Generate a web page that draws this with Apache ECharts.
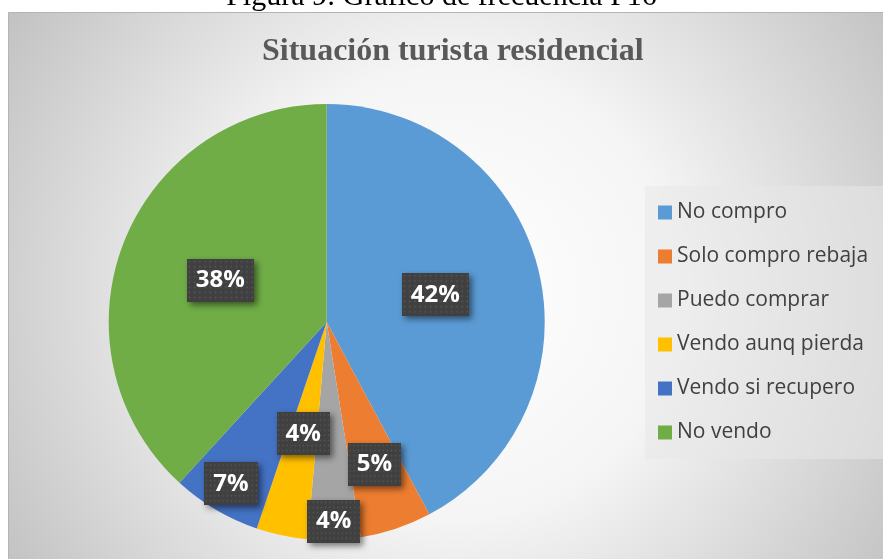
<!DOCTYPE html>
<html>
<head>
<meta charset="utf-8">
<script src="https://cdn.jsdelivr.net/npm/echarts@6/dist/echarts.min.js"></script>
<style>
    html, body { margin: 0; padding: 0; background: #ffffff; }
    #chart { width: 883px; height: 559px; }
</style>
</head>
<body>
<div id="chart"></div>
<script>
    // Pregunta 16 - situación turista residencial
    var categorias = ['No compro', 'Solo compro rebaja', 'Puedo comprar', 'Vendo aunq pierda', 'Vendo si recupero', 'No vendo'];
    var porcentajes = [42.2, 5.3, 3.9, 3.8, 6.6, 38.2];
    var colores = ['#5B9BD5', '#ED7D31', '#A5A5A5', '#FFC000', '#4472C4', '#70AD47'];
    // distancia de la etiqueta al centro (fraccion del radio), "mejor ajuste" de Excel
    var distEtiqueta = [0.5, 0.67, 0.89, 0.51, 0.84, 0.51];

    var centroX = 0.37, centroY = 0.576;

    // fondo punteado de las etiquetas
    var patron = document.createElement('canvas');
    patron.width = 64;
    patron.height = 42;
    var g = patron.getContext('2d');
    g.fillStyle = '#404040';
    g.fillRect(0, 0, 64, 42);
    g.fillStyle = '#575757';
    for (var py = 2; py < 42; py += 5) {
        for (var px = 2; px < 64; px += 5) {
            g.beginPath();
            g.arc(px + 0.5, py + 0.5, 0.9, 0, Math.PI * 2);
            g.fill();
        }
    }

    var chart = echarts.init(document.getElementById('chart'));

    var datos = categorias.map(function (c, i) {
        return { name: c, value: porcentajes[i] };
    });

    chart.setOption({
        animation: false,
        color: colores,
        graphic: [
            {
                type: 'rect',
                left: 8,
                top: 12,
                z: -10,
                silent: true,
                shape: { width: 890, height: 560 },
                style: {
                    fill: {
                        type: 'radial', x: 0.5, y: 0.5, r: 1,
                        colorStops: [
                            { offset: 0, color: '#ffffff' },
                            { offset: 0.4, color: '#f5f5f5' },
                            { offset: 1, color: '#bcbcbc' }
                        ]
                    },
                    stroke: '#b4b4b4',
                    lineWidth: 1
                }
            },
            {
                type: 'text',
                left: 'center',
                top: -18,
                silent: true,
                style: {
                    text: 'Figura 9: Gráfico de frecuencia P16',
                    font: '30px "Liberation Serif"',
                    fill: '#000000'
                }
            }
        ],
        title: {
            text: 'Situación turista residencial',
            left: 262,
            top: 36,
            padding: 0,
            textStyle: {
                fontFamily: 'Liberation Serif',
                fontWeight: 'bold',
                fontSize: 32,
                color: '#595959'
            }
        },
        legend: {
            orient: 'vertical',
            left: 645,
            top: 186,
            padding: [16, 40, 16, 13],
            backgroundColor: 'rgba(232,232,232,0.55)',
            itemWidth: 14,
            itemHeight: 14,
            itemGap: 23,
            icon: 'rect',
            textStyle: {
                fontFamily: 'Open Sans',
                fontSize: 21,
                color: '#404040'
            },
            data: categorias
        },
        series: [{
            type: 'pie',
            center: [centroX * 100 + '%', centroY * 100 + '%'],
            radius: '78%',
            startAngle: 90,
            clockwise: true,
            data: datos,
            emphasis: { disabled: true },
            label: {
                show: true,
                position: 'inside',
                formatter: function (p) {
                    return Math.round(p.percent) + '%';
                },
                fontFamily: 'Open Sans',
                fontWeight: 'bold',
                fontSize: 24,
                color: '#ffffff',
                backgroundColor: { image: patron },
                padding: [10, 9, 9, 9],
                shadowColor: 'rgba(0,0,0,0.5)',
                shadowBlur: 6,
                shadowOffsetX: 3,
                shadowOffsetY: 3
            },
            labelLine: { show: false },
            labelLayout: function (p) {
                var cx = chart.getWidth() * centroX;
                var cy = chart.getHeight() * centroY;
                var lx = p.labelRect.x + p.labelRect.width / 2;
                var ly = p.labelRect.y + p.labelRect.height / 2;
                var k = distEtiqueta[p.dataIndex] / 0.5;
                return { x: cx + (lx - cx) * k, y: cy + (ly - cy) * k };
            }
        }]
    });
</script>
</body>
</html>
